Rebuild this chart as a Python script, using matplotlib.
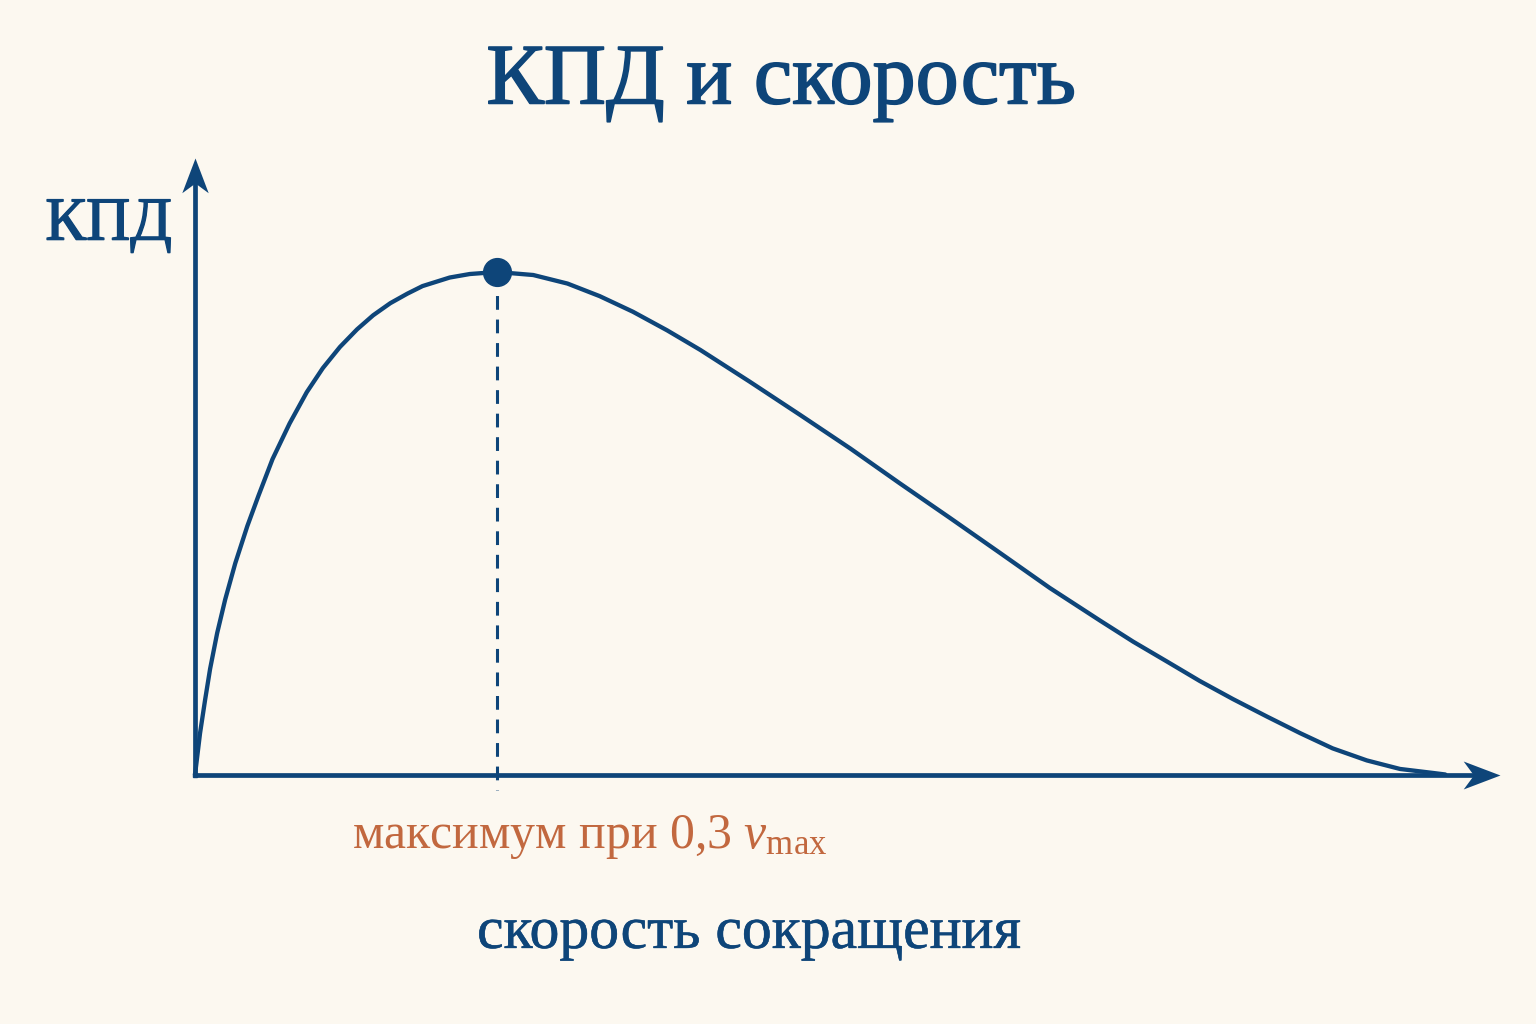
import matplotlib
matplotlib.use("Agg")
import matplotlib.pyplot as plt
import matplotlib.patheffects as pe
from matplotlib.path import Path

# ---- data (speed in units of v_max, efficiency relative to peak) ----
speed = [0.0, 0.005, 0.010, 0.015, 0.022, 0.030, 0.040, 0.052, 0.063, 0.077,
         0.094, 0.111, 0.127, 0.144, 0.161, 0.177, 0.194, 0.211, 0.226, 0.253, 0.273,
         0.300, 0.336, 0.370, 0.402, 0.435, 0.469, 0.502, 0.551, 0.601, 0.651, 0.700,
         0.750, 0.800, 0.849, 0.899, 0.932, 0.966, 0.998, 1.031, 1.065, 1.098, 1.130,
         1.164, 1.197, 1.230, 1.242]
efficiency = [0.0, 0.083, 0.149, 0.211, 0.282, 0.349, 0.421, 0.495, 0.555, 0.628,
              0.699, 0.761, 0.809, 0.851, 0.886, 0.914, 0.938, 0.957, 0.972, 0.989, 0.996,
              1.000, 0.994, 0.977, 0.952, 0.921, 0.884, 0.845, 0.782, 0.716, 0.649, 0.580,
              0.511, 0.441, 0.372, 0.307, 0.265, 0.225, 0.187, 0.151, 0.116, 0.083, 0.053,
              0.029, 0.012, 0.004, 0.001]
peak_speed = 0.300
peak_eff = 1.000
x_axis_end = 1.296
y_axis_end = 1.227

title = "КПД и скорость"
ylabel = "КПД"
xlabel = "скорость сокращения"
annot = "максимум при 0,3 "

NAVY = "#0e4579"
ORANGE = "#c2683f"
BG = "#fcf8f0"

plt.rcParams['font.family'] = ['Liberation Serif', 'DejaVu Serif']
plt.rcParams['mathtext.fontset'] = 'custom'
plt.rcParams['mathtext.rm'] = 'Liberation Serif'
plt.rcParams['mathtext.it'] = 'Liberation Serif:italic'

fig = plt.figure(figsize=(15.36, 10.24), dpi=100, facecolor=BG)
ax = fig.add_axes([0, 0, 1, 1])
ax.set_facecolor(BG)
ax.set_xlim(-195 / 1006.7, (1536 - 195) / 1006.7)
ax.set_ylim(-(1024 - 775) / 503, 775 / 503)
ax.axis('off')

# arrowhead markers (stealth shape)
head_right = Path([(0, 0), (-1, 0.38), (-0.72, 0), (-1, -0.38), (0, 0)],
                  [Path.MOVETO, Path.LINETO, Path.LINETO, Path.LINETO, Path.CLOSEPOLY])
head_up = Path([(0, 0), (0.38, -1), (0, -0.72), (-0.38, -1), (0, 0)],
               [Path.MOVETO, Path.LINETO, Path.LINETO, Path.LINETO, Path.CLOSEPOLY])

# axes lines
ax.plot([0, x_axis_end - 0.02], [0, 0], color=NAVY, lw=3.4, solid_capstyle='butt', zorder=2)
ax.plot([0, 0], [0, y_axis_end - 0.04], color=NAVY, lw=3.4, solid_capstyle='butt', zorder=2)
ax.plot([0], [0], marker='s', color=NAVY, markersize=2.4, zorder=2)
ax.plot([x_axis_end], [0], marker=head_right, markersize=53, color=NAVY,
        markeredgewidth=0, linestyle='none', zorder=3)
ax.plot([0], [y_axis_end], marker=head_up, markersize=50, color=NAVY,
        markeredgewidth=0, linestyle='none', zorder=3)

# curve
ax.plot(speed, efficiency, color=NAVY, lw=3.1, solid_capstyle='round',
        solid_joinstyle='round', zorder=3)

# dashed guide to peak
ax.plot([peak_speed, peak_speed], [peak_eff, -0.03], color=NAVY, lw=2.2,
        dashes=(4.5, 3.2), zorder=2)
ax.plot([peak_speed], [peak_eff], 'o', color=NAVY, markersize=20, zorder=4)

# texts
fig.text(0.5085, 0.899, title, ha='center', va='baseline', fontsize=62,
         color=NAVY, path_effects=[pe.withStroke(linewidth=1.2, foreground=NAVY)])
fig.text(0.0295, 0.766, ylabel, ha='left', va='baseline', fontsize=44,
         color=NAVY, path_effects=[pe.withStroke(linewidth=1.0, foreground=NAVY)])
fig.text(0.488, 0.088, xlabel, ha='center', va='center', fontsize=43,
         color=NAVY, path_effects=[pe.withStroke(linewidth=0.4, foreground=NAVY)])
fig.text(0.229, 0.183, annot + r"$v_{\mathrm{max}}$", ha='left', va='center',
         fontsize=35.8, color=ORANGE)

fig.savefig("out.png", dpi=100, facecolor=BG)
